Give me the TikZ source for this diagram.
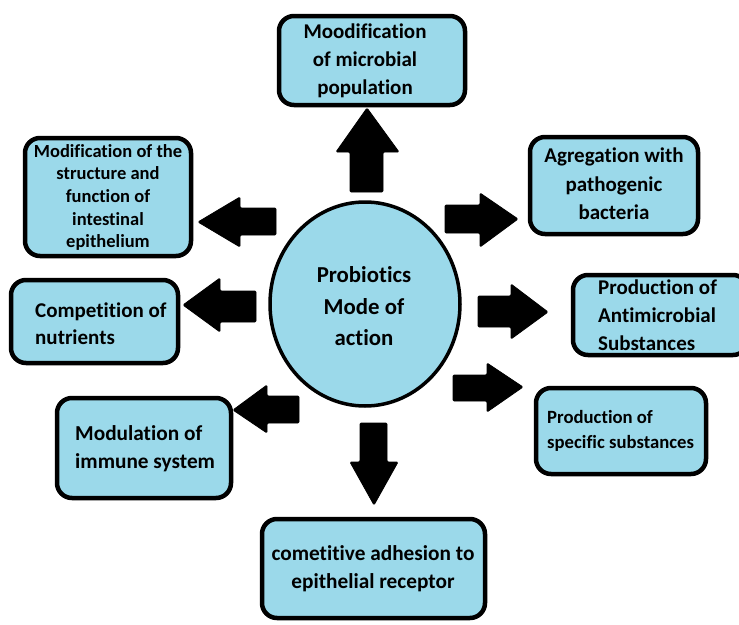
\documentclass[tikz,border=0pt]{standalone}
\usepackage{fontspec}
\setmainfont[Ligatures=NoCommon]{Carlito}
\usetikzlibrary{shapes.geometric}
\definecolor{boxblue}{RGB}{155,217,234}
\tikzset{
  box/.style={draw=black, line width=4.5pt, fill=boxblue, rounded corners=15pt, inner sep=0pt},
  blockarrow/.style={fill=black, draw=black, line width=0.8pt, rounded corners=1.2pt, line join=round},
  lbl/.style={text=black, inner sep=0pt},
}
\begin{document}
\begin{tikzpicture}[x=1pt,y=-1pt]
\useasboundingbox (0,0) rectangle (739,624);
% boxes
\node[box, minimum width=186pt, minimum height=89pt] (b1) at (372,60.5) {};
\node[box, minimum width=166pt, minimum height=118pt] (b2) at (108,197) {};
\node[box, minimum width=168pt, minimum height=97pt] (b3) at (614,185.5) {};
\node[box, minimum width=167pt, minimum height=83pt] (b4) at (94.5,321.5) {};
\node[box, minimum width=175pt, minimum height=80pt] (b5) at (660.5,315) {};
\node[box, minimum width=174pt, minimum height=100pt] (b6) at (144,448) {};
\node[box, minimum width=170pt, minimum height=86pt] (b7) at (621,431) {};
\node[box, minimum width=223pt, minimum height=99pt] (b8) at (373.5,568.5) {};
\node[draw=black, line width=3.5pt, fill=boxblue, ellipse, minimum width=190pt, minimum height=204pt, inner sep=0pt] (c) at (365,304) {};
% texts
\node[lbl, align=center, font=\fontsize{21}{28}\selectfont\bfseries] (t1) at (365,61) {Moodification\\of microbial\\population};
\node[lbl, align=center, font=\fontsize{18.5}{22.7}\selectfont\bfseries] (t2) at (108,197.5) {Modification of the\\structure and\\function of\\intestinal\\epithelium};
\node[lbl, align=center, font=\fontsize{21}{28.5}\selectfont\bfseries] (t3) at (614,184) {Agregation with\\pathogenic\\bacteria};
\node[lbl, align=left, font=\fontsize{21}{27}\selectfont\bfseries, anchor=west] (t4) at (35,323.5) {Competition of\\nutrients};
\node[lbl, align=left, font=\fontsize{21}{28}\selectfont\bfseries, anchor=west] (t5) at (598,315) {Production of\\Antimicrobial\\Substances};
\node[lbl, align=left, font=\fontsize{21.3}{28}\selectfont\bfseries, anchor=west] (t6) at (75,449) {Modulation of\\immune system};
\node[lbl, align=left, font=\fontsize{18.7}{25}\selectfont\bfseries, anchor=west] (t7) at (547,430.5) {Production of\\specific substances};
\node[lbl, align=center, font=\fontsize{21.3}{28}\selectfont\bfseries] (t8) at (373,569) {cometitive adhesion to\\epithelial receptor};
\node[lbl, align=center, font=\fontsize{22.8}{31.5}\selectfont\bfseries] (t0) at (364,306.5) {Probiotics\\Mode of\\action};
% block arrows
\fill[blockarrow] (350,192) -- (350,152) -- (336,152) -- (367,108) -- (399,152) -- (383,152) -- (383,192) -- cycle;
\fill[blockarrow] (276,208) -- (240,208) -- (240,197) -- (198,222) -- (240,247) -- (240,235) -- (276,235) -- cycle;
\fill[blockarrow] (256,291) -- (220,291) -- (220,278) -- (183,305) -- (220,332) -- (220,322) -- (256,322) -- cycle;
\fill[blockarrow] (299,396) -- (267,396) -- (267,385) -- (233,410) -- (267,433) -- (267,423) -- (299,423) -- cycle;
\fill[blockarrow] (445,205) -- (480,205) -- (480,193) -- (518,219) -- (480,247) -- (480,233) -- (445,233) -- cycle;
\fill[blockarrow] (478,296) -- (511,296) -- (511,284) -- (548,312) -- (511,339) -- (511,327) -- (478,327) -- cycle;
\fill[blockarrow] (453,375) -- (487,375) -- (487,363) -- (523,387) -- (487,412) -- (487,401) -- (453,401) -- cycle;
\fill[blockarrow] (360,423) -- (387,423) -- (387,462) -- (398,462) -- (374,505) -- (350,462) -- (360,462) -- cycle;
\end{tikzpicture}
\end{document}
